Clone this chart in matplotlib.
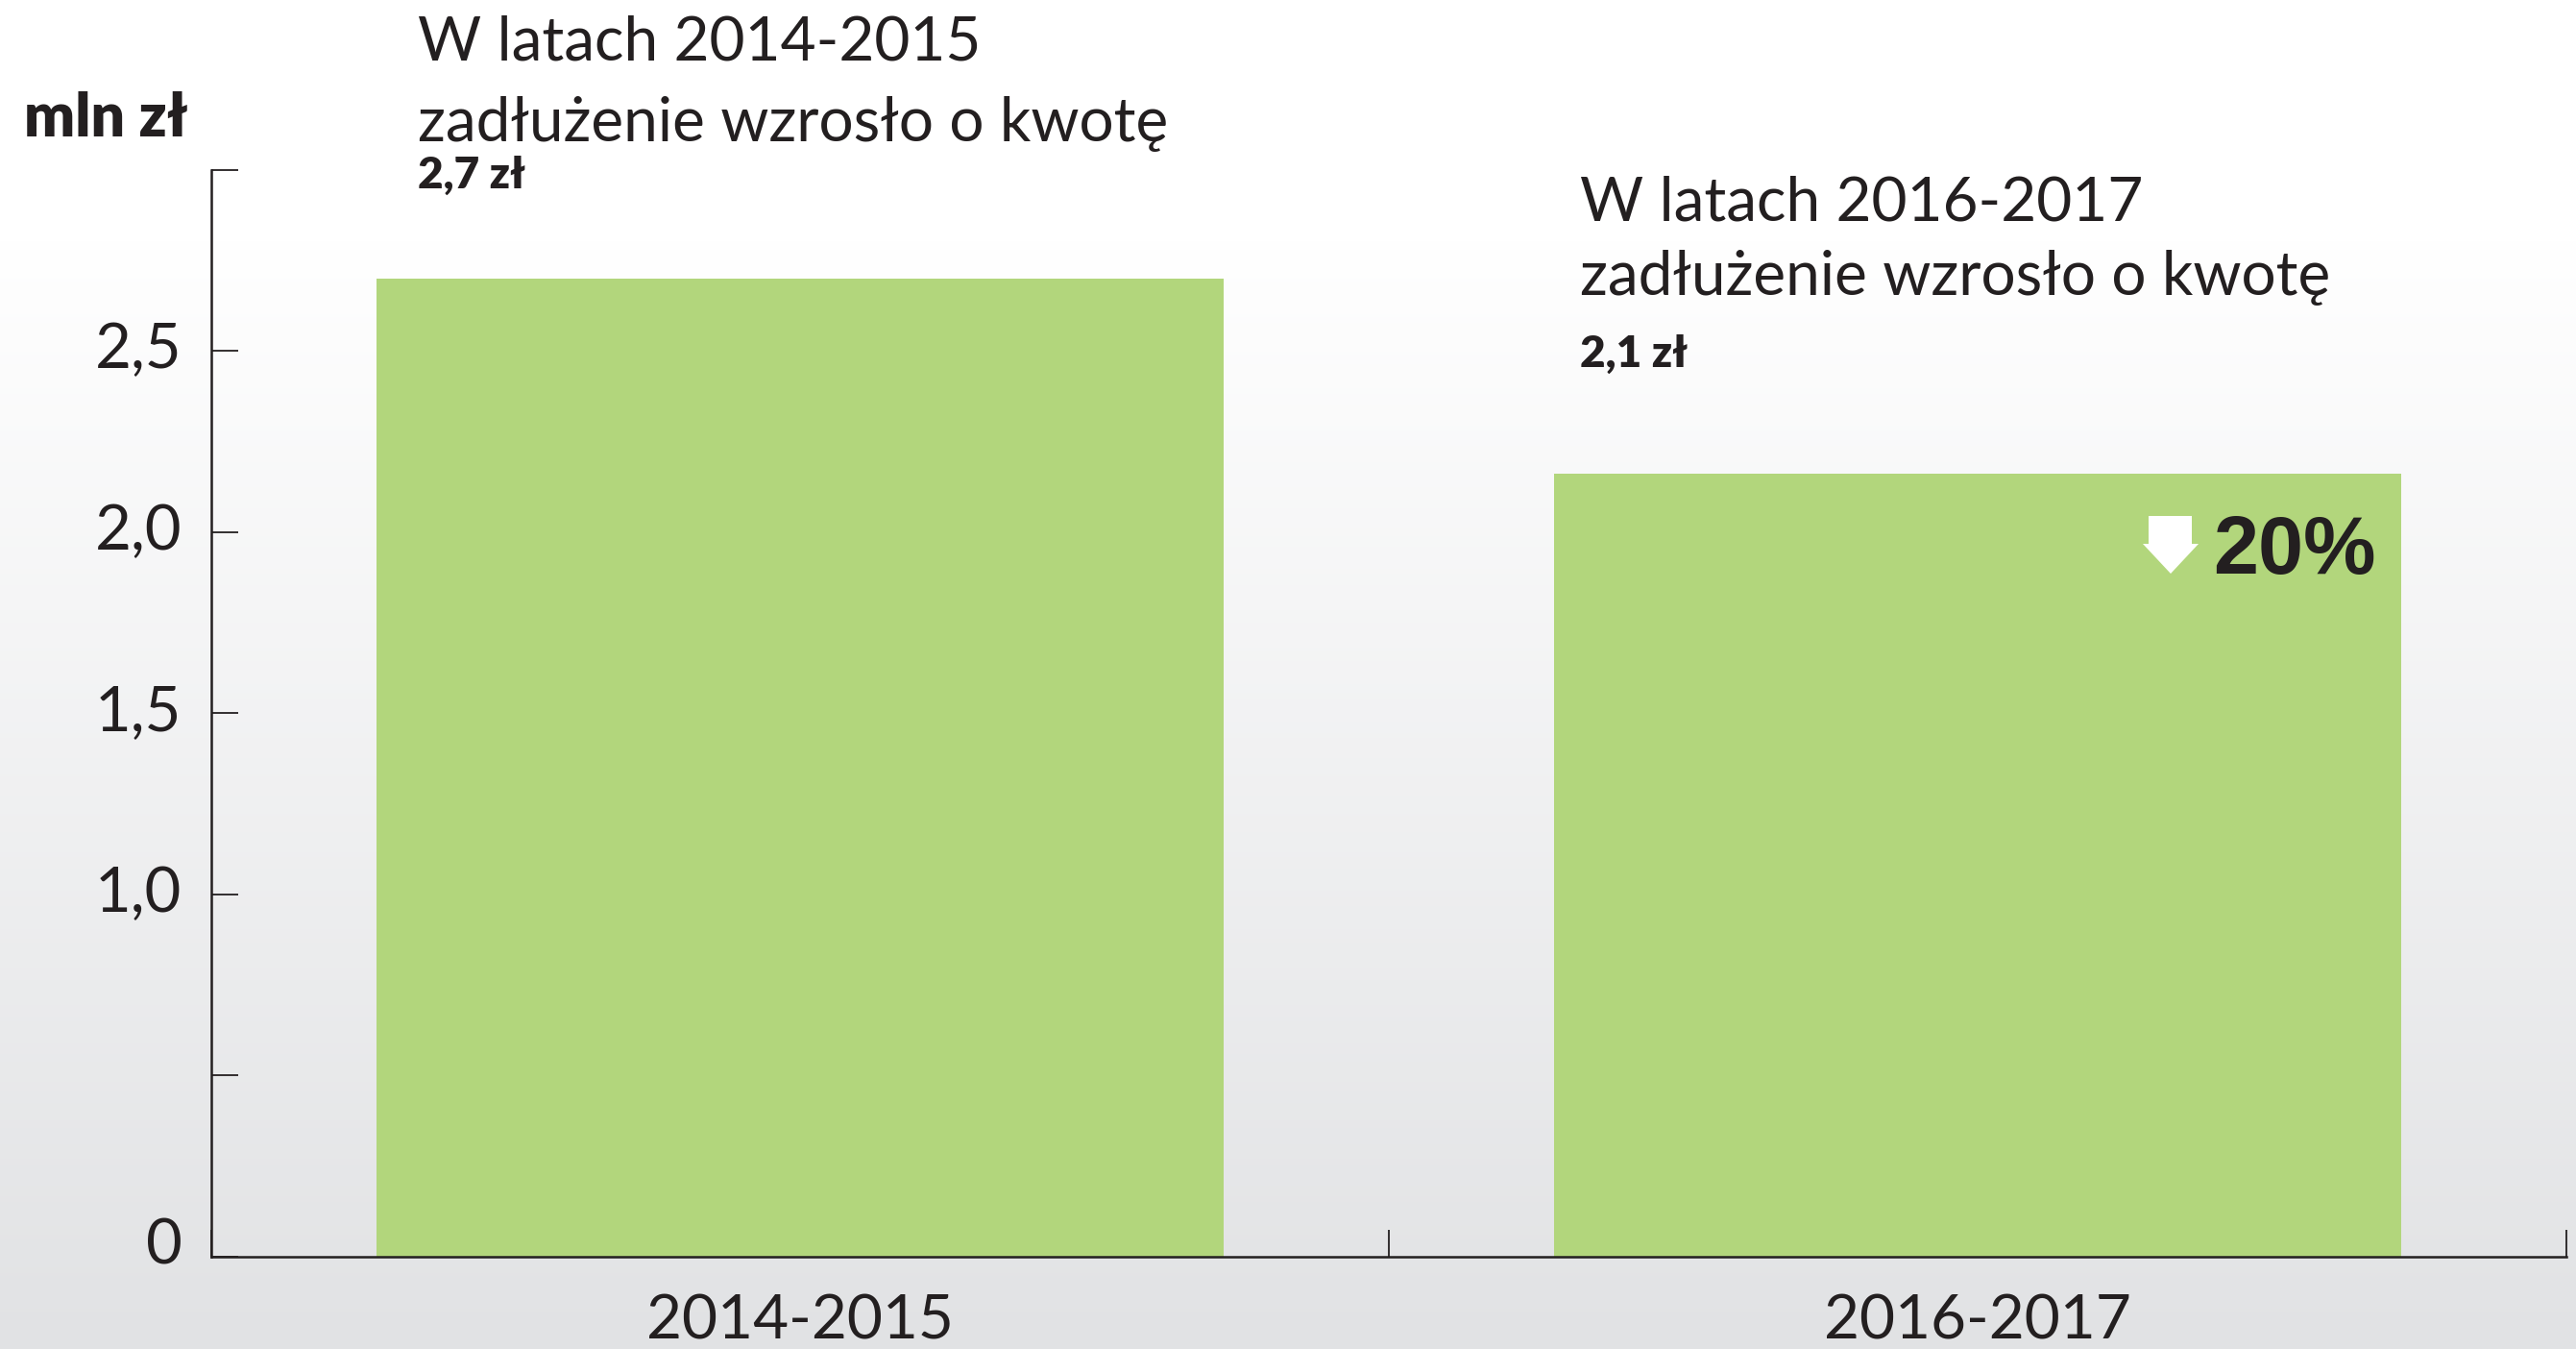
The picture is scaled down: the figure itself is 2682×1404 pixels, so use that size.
import matplotlib
matplotlib.use('Agg')
import matplotlib.pyplot as plt
import numpy as np
from matplotlib.patches import Polygon
from matplotlib.transforms import ScaledTranslation

# ---- data ----
categories = ['2014-2015', '2016-2017']
values = [2.7, 2.16]
value_labels = ['2,7 zł', '2,1 zł']
period_titles = ['W latach 2014-2015', 'W latach 2016-2017']
subtitle = 'zadłużenie wzrosło o kwotę'
ytick_values = [0, 0.5, 1.0, 1.5, 2.0, 2.5, 3.0]
ytick_labels = ['0', '', '1,0', '1,5', '2,0', '2,5', '']
change_label = '20%'
unit_label = 'mln zł'

# ---- style ----
W, H = 2682, 1404
DPI = 100
DARK = '#231f20'
BAR = '#b2d67c'
plt.rcParams['font.family'] = ['Lato', 'DejaVu Sans']

fig = plt.figure(figsize=(W / DPI, H / DPI), dpi=DPI)

def fx(px):
    return px / W

def fy(py):
    return 1 - py / H

# background gradient
bg = fig.add_axes([0, 0, 1, 1], zorder=-10)
ys = np.arange(H)
t = np.clip((ys - 250) / (H - 250), 0, 1)
top = np.array([1.0, 1.0, 1.0])
bot = np.array([225, 226, 228]) / 255
grad = top[None, :] * (1 - t[:, None]) + bot[None, :] * t[:, None]
bg.imshow(grad[:, None, :], aspect='auto', extent=[0, 1, 0, 1], origin='upper')
bg.axis('off')

# main axes
ax = fig.add_axes([fx(220), fy(1308), fx(2672 - 220), (1308 - 176.7) / H])
ax.patch.set_alpha(0)
x = np.arange(len(categories))
ax.bar(x, values, width=0.72, color=BAR, zorder=2)

ax.set_xlim(-0.5, len(categories) - 0.5)
ax.set_ylim(0, 3.0)

for s in ['top', 'right']:
    ax.spines[s].set_visible(False)
for s in ['left', 'bottom']:
    ax.spines[s].set_color(DARK)
    ax.spines[s].set_linewidth(1.8)
    ax.spines[s].set_zorder(3)

ax.set_xticks(np.arange(-0.5, len(categories), 1.0))
ax.set_xticklabels([])
ax.tick_params(axis='x', which='major', direction='in', length=20, width=1.3, color=DARK)
ax.set_xticks(x, minor=True)
ax.set_xticklabels(categories, minor=True)
ax.tick_params(axis='x', which='minor', length=0, pad=28, labelsize=46, labelcolor=DARK)

ax.set_yticks(ytick_values)
ax.set_yticklabels(ytick_labels)
ax.tick_params(axis='y', direction='in', length=20, width=1.3, color=DARK,
               pad=22, labelsize=47, labelcolor=DARK)
for lab in ax.get_yticklabels():
    dy = 16 if lab.get_text() == '0' else 6
    lab.set_transform(lab.get_transform() + ScaledTranslation(0, dy / DPI, fig.dpi_scale_trans))

# unit label
fig.text(fx(25), fy(142), unit_label, fontsize=45, fontweight='heavy', color=DARK,
         ha='left', va='baseline')

# annotations
title_pos = [(435, 62.7, 146.7, 196), (1645, 229.3, 306.7, 381.7)]
for (px, y1, y2, y3), title, vlab in zip(title_pos, period_titles, value_labels):
    fig.text(fx(px), fy(y1), title, fontsize=46, color=DARK, ha='left', va='baseline')
    fig.text(fx(px), fy(y2), subtitle, fontsize=46, color=DARK, ha='left', va='baseline')
    fig.text(fx(px), fy(y3), vlab, fontsize=33, fontweight='heavy', color=DARK,
             ha='left', va='baseline')

# change marker
fig.text(fx(2474), fy(597), change_label, fontsize=61, fontweight='bold', color=DARK,
         family=['Liberation Sans', 'DejaVu Sans'], ha='right', va='baseline')
arrow_px = [(2237, 537), (2282, 537), (2282, 566), (2289, 566), (2260, 597),
            (2231, 566), (2237, 566)]
arrow = Polygon([(fx(a), fy(b)) for a, b in arrow_px], closed=True,
                transform=fig.transFigure, facecolor='white', edgecolor='none', zorder=5)
fig.patches.append(arrow)

fig.savefig('out.png', dpi=DPI)
